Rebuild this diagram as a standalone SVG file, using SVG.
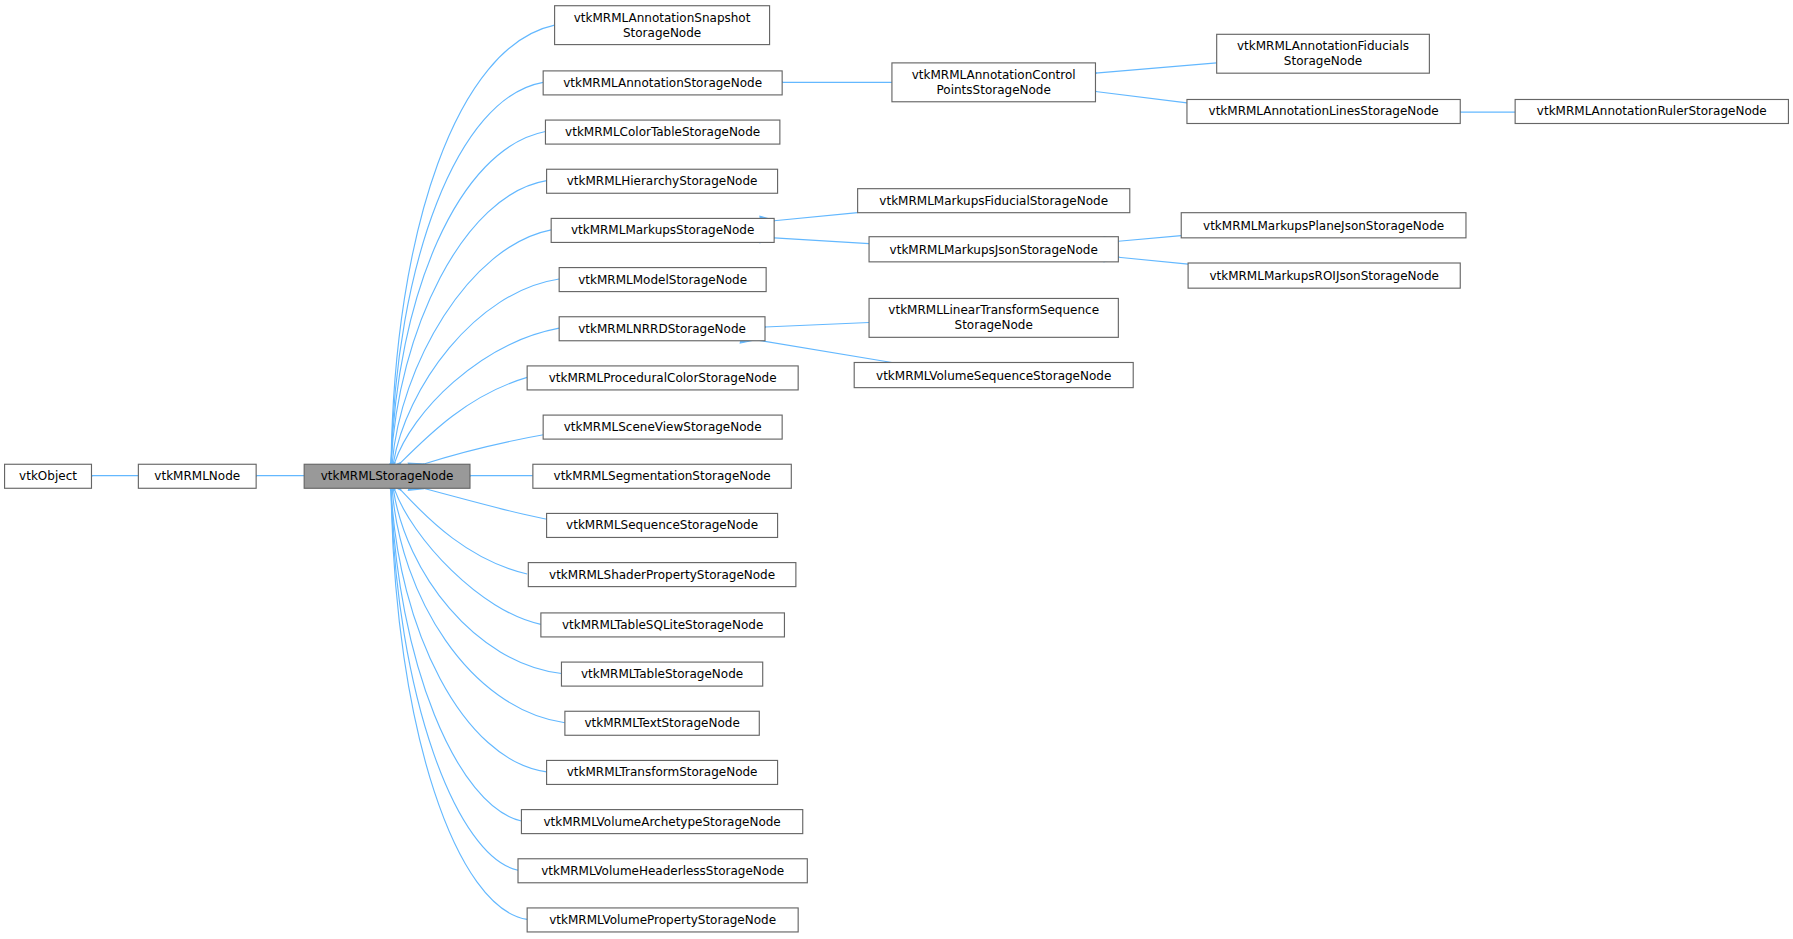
<svg xmlns="http://www.w3.org/2000/svg" width="1793" height="939" viewBox="0 0 1793 939">
<style>
.n rect{fill:#fff;stroke:#666;stroke-width:1}
.g rect{fill:#999;stroke:#666}
text{font-family:"DejaVu Sans",sans-serif;font-size:10.5px;text-anchor:middle;fill:#000}
.e path{fill:none;stroke:#63b8ff;stroke-width:1;marker-start:url(#a)}
</style>
<defs><marker id="a" markerUnits="userSpaceOnUse" markerWidth="14" markerHeight="12" refX="1" refY="5" orient="auto-start-reverse" viewBox="0 0 14 10"><path d="M0,5 L13,0 L13,10 Z" fill="#63b8ff" stroke="#63b8ff"/></marker></defs>
<rect width="1793" height="939" fill="#fff"/>
<g transform="scale(1.1435)">
<g class="e">
<path d="M80,416 H121"/>
<path d="M224,416 H266"/>
<path d="M342,405 C345,200 400,40 485,22"/>
<path d="M342,405 C346,230 400,85 475,72"/>
<path d="M342,405 C347,260 400,130 477,115"/>
<path d="M342,405 C348,290 405,170 478,158"/>
<path d="M343,405 C350,320 410,215 482,201"/>
<path d="M344,405 C355,340 415,255 489,244"/>
<path d="M345,405 C360,360 420,300 489,287"/>
<path d="M350,405 C375,380 410,345 461,330"/>
<path d="M370,406 C420,390 470,380 520,373"/>
<path d="M411,416 H466"/>
<path d="M370,427 C420,440 470,455 515,460"/>
<path d="M350,428 C375,455 410,490 461,502"/>
<path d="M345,428 C360,470 420,535 473,546"/>
<path d="M344,428 C355,500 415,580 491,589"/>
<path d="M343,428 C350,520 410,620 494,632"/>
<path d="M342,428 C348,550 405,665 478,675"/>
<path d="M342,428 C347,580 400,705 456,718"/>
<path d="M342,428 C346,610 400,750 453,761"/>
<path d="M342,428 C345,640 400,795 461,804"/>
<path d="M684,72 H780"/>
<path d="M958,64 L1064,55"/>
<path d="M958,80 L1038,90"/>
<path d="M1277,98 H1325"/>
<path d="M677,193 L750,186"/>
<path d="M677,208 L760,213"/>
<path d="M978,211 L1033,206"/>
<path d="M978,225 L1039,231"/>
<path d="M669,286 L760,282"/>
<path d="M660,297 L780,317"/>
</g>
<g class="n" id="n0"><rect x="4" y="406" width="76" height="21"/><text x="42" y="420">vtkObject</text></g>
<g class="n" id="n1"><rect x="121" y="406" width="103" height="21"/><text x="172.5" y="420">vtkMRMLNode</text></g>
<g class="g" id="n2"><rect x="266" y="406" width="145" height="21"/><text x="338.5" y="420">vtkMRMLStorageNode</text></g>
<g class="n" id="c1"><rect x="485" y="5" width="188" height="34"/><text x="579" y="19">vtkMRMLAnnotationSnapshot</text><text x="579" y="32">StorageNode</text></g>
<g class="n" id="c2"><rect x="475" y="62" width="209" height="21"/><text x="579.5" y="76">vtkMRMLAnnotationStorageNode</text></g>
<g class="n" id="c3"><rect x="477" y="105" width="205" height="21"/><text x="579.5" y="119">vtkMRMLColorTableStorageNode</text></g>
<g class="n" id="c4"><rect x="478" y="148" width="202" height="21"/><text x="579" y="162">vtkMRMLHierarchyStorageNode</text></g>
<g class="n" id="c5"><rect x="482" y="191" width="195" height="21"/><text x="579.5" y="205">vtkMRMLMarkupsStorageNode</text></g>
<g class="n" id="c6"><rect x="489" y="234" width="181" height="21"/><text x="579.5" y="248">vtkMRMLModelStorageNode</text></g>
<g class="n" id="c7"><rect x="489" y="277" width="180" height="21"/><text x="579" y="291">vtkMRMLNRRDStorageNode</text></g>
<g class="n" id="c8"><rect x="461" y="320" width="237" height="21"/><text x="579.5" y="334">vtkMRMLProceduralColorStorageNode</text></g>
<g class="n" id="c9"><rect x="475" y="363" width="209" height="21"/><text x="579.5" y="377">vtkMRMLSceneViewStorageNode</text></g>
<g class="n" id="c10"><rect x="466" y="406" width="226" height="21"/><text x="579" y="420">vtkMRMLSegmentationStorageNode</text></g>
<g class="n" id="c11"><rect x="478" y="449" width="202" height="21"/><text x="579" y="463">vtkMRMLSequenceStorageNode</text></g>
<g class="n" id="c12"><rect x="462" y="492" width="234" height="21"/><text x="579" y="506">vtkMRMLShaderPropertyStorageNode</text></g>
<g class="n" id="c13"><rect x="473" y="536" width="213" height="21"/><text x="579.5" y="550">vtkMRMLTableSQLiteStorageNode</text></g>
<g class="n" id="c14"><rect x="491" y="579" width="176" height="21"/><text x="579" y="593">vtkMRMLTableStorageNode</text></g>
<g class="n" id="c15"><rect x="494" y="622" width="170" height="21"/><text x="579" y="636">vtkMRMLTextStorageNode</text></g>
<g class="n" id="c16"><rect x="478" y="665" width="202" height="21"/><text x="579" y="679">vtkMRMLTransformStorageNode</text></g>
<g class="n" id="c17"><rect x="456" y="708" width="246" height="21"/><text x="579" y="722">vtkMRMLVolumeArchetypeStorageNode</text></g>
<g class="n" id="c18"><rect x="453" y="751" width="253" height="21"/><text x="579.5" y="765">vtkMRMLVolumeHeaderlessStorageNode</text></g>
<g class="n" id="c19"><rect x="461" y="794" width="237" height="21"/><text x="579.5" y="808">vtkMRMLVolumePropertyStorageNode</text></g>
<g class="n" id="d1"><rect x="780" y="55" width="178" height="34"/><text x="869" y="69">vtkMRMLAnnotationControl</text><text x="869" y="82">PointsStorageNode</text></g>
<g class="n" id="d2"><rect x="750" y="165" width="238" height="21"/><text x="869" y="179">vtkMRMLMarkupsFiducialStorageNode</text></g>
<g class="n" id="d3"><rect x="760" y="207" width="218" height="22"/><text x="869" y="222">vtkMRMLMarkupsJsonStorageNode</text></g>
<g class="n" id="d4"><rect x="760" y="261" width="218" height="34"/><text x="869" y="275">vtkMRMLLinearTransformSequence</text><text x="869" y="288">StorageNode</text></g>
<g class="n" id="d5"><rect x="747" y="317" width="244" height="22"/><text x="869" y="332">vtkMRMLVolumeSequenceStorageNode</text></g>
<g class="n" id="e1"><rect x="1064" y="30" width="186" height="34"/><text x="1157" y="44">vtkMRMLAnnotationFiducials</text><text x="1157" y="57">StorageNode</text></g>
<g class="n" id="e2"><rect x="1038" y="87" width="239" height="21"/><text x="1157.5" y="101">vtkMRMLAnnotationLinesStorageNode</text></g>
<g class="n" id="e3"><rect x="1033" y="186" width="249" height="22"/><text x="1157.5" y="201">vtkMRMLMarkupsPlaneJsonStorageNode</text></g>
<g class="n" id="e4"><rect x="1039" y="230" width="238" height="22"/><text x="1158" y="245">vtkMRMLMarkupsROIJsonStorageNode</text></g>
<g class="n" id="f1"><rect x="1325" y="87" width="239" height="21"/><text x="1444.5" y="101">vtkMRMLAnnotationRulerStorageNode</text></g>
</g>
</svg>
